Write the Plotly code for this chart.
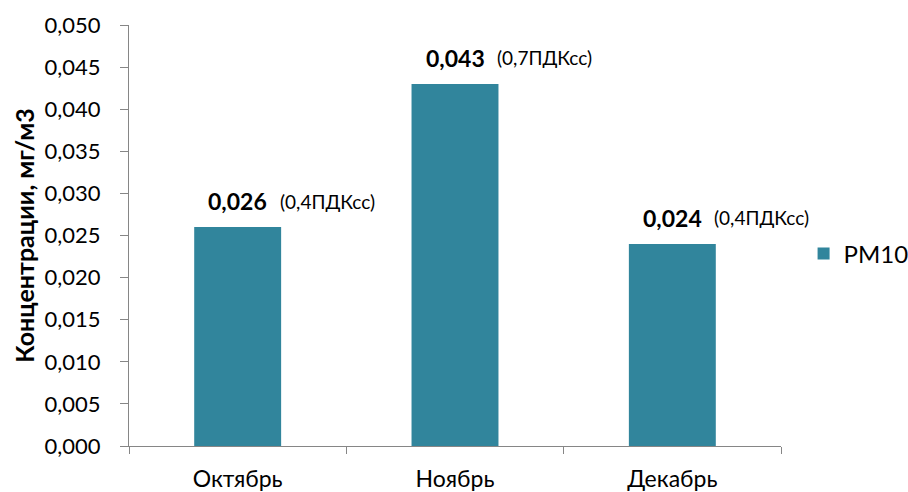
import plotly.graph_objects as go

# Monthly average PM10 concentration, mg/m3
months = ["Октябрь", "Ноябрь", "Декабрь"]
pm10 = [0.026, 0.043, 0.024]
value_labels = ["0,026", "0,043", "0,024"]
pdk_labels = ["(0,4ПДКсс)", "(0,7ПДКсс)", "(0,4ПДКсс)"]
y_ticks = [0.000, 0.005, 0.010, 0.015, 0.020, 0.025, 0.030, 0.035, 0.040, 0.045, 0.050]

FONT = "Lato"
BAR_COLOR = "#31859C"
AXIS_COLOR = "#868686"

fig = go.Figure()
fig.add_trace(go.Bar(
    x=months, y=pm10, name="PM10",
    marker=dict(color=BAR_COLOR, line=dict(width=0)),
))

# value label (bold) above each bar, followed by the MPC share
for m, v, vl, pl in zip(months, pm10, value_labels, pdk_labels):
    fig.add_annotation(x=m, y=v, text=f"<b>{vl}</b>", showarrow=False,
                       xanchor="center", yanchor="middle", yshift=26, xshift=0,
                       font=dict(family=FONT, size=23, color="black"))
    fig.add_annotation(x=m, y=v, text=pl, showarrow=False,
                       xanchor="left", yanchor="middle", yshift=26, xshift=40,
                       font=dict(family=FONT, size=19, color="black"))

fig.update_layout(
    template="none",
    width=908, height=492,
    margin=dict(l=129, r=127, t=25, b=46, autoexpand=False),
    paper_bgcolor="white", plot_bgcolor="white",
    separators=", ",
    bargap=0.6,
    font=dict(family=FONT, size=21, color="black"),
    showlegend=True,
    legend=dict(xref="container", yref="container", x=0.885, y=0.484,
                xanchor="left", yanchor="middle",
                font=dict(family=FONT, size=24, color="black"),
                itemwidth=30, bgcolor="rgba(0,0,0,0)"),
    xaxis=dict(
        domain=[0, 1], automargin=False, range=[-0.5, 2.5], autorange=False,
        showline=True, linecolor=AXIS_COLOR, linewidth=1,
        ticks="outside", tickson="boundaries", ticklen=7, tickcolor=AXIS_COLOR,
        ticklabelstandoff=12,
        showgrid=False, tickfont=dict(family=FONT, size=23),
    ),
    yaxis=dict(
        automargin=False,
        range=[0, 0.05], tickvals=y_ticks, tickformat=".3f",
        showline=True, linecolor=AXIS_COLOR, linewidth=1,
        ticks="outside", ticklen=8, tickcolor=AXIS_COLOR,
        ticklabelstandoff=15,
        showgrid=False, zeroline=False,
        tickfont=dict(family=FONT, size=22),
        title=dict(text="<b>Концентрации, мг/м3</b>", standoff=2,
                   font=dict(family=FONT, size=25)),
    ),
)

fig.write_html("out.html")
